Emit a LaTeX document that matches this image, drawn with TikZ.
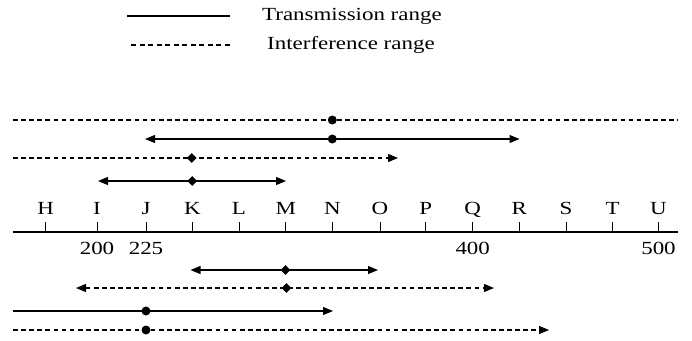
\documentclass[tikz,border=0pt]{standalone}
\usepackage{fontspec}
\setmainfont{Liberation Serif}
\usetikzlibrary{arrows.meta,shapes.geometric}
\newcommand{\wide}[1]{\scalebox{1.24}[1]{#1}}
\begin{document}
\begin{tikzpicture}[x=1pt,y=-1pt,
  rng/.style={line width=1.1pt},
  irng/.style={line width=1.1pt,dash pattern=on 4.7pt off 3.4pt},
  tip/.style={-{Triangle[length=10pt,width=8pt]}},
  tips/.style={{Triangle[length=10pt,width=8pt]}-{Triangle[length=10pt,width=8pt]}},
  dotn/.style={circle,fill=black,inner sep=0pt,minimum size=9pt},
  dia/.style={diamond,fill=black,inner sep=0pt,minimum size=10pt},
  lbl/.style={font=\fontsize{18.5}{20}\selectfont,inner sep=0pt},
  num/.style={font=\fontsize{18.5}{20}\selectfont,inner sep=0pt}]
\useasboundingbox (0,0) rectangle (692,340);
% legend
\coordinate (l1a) at (127,16); \coordinate (l1b) at (230,16);
\coordinate (l2a) at (131,45); \coordinate (l2b) at (230,45);
\draw[line width=1.2pt] (l1a) -- (l1b);
\draw[line width=1.1pt,dash pattern=on 5pt off 3.5pt] (l2a) -- (l2b);
\node[lbl,anchor=west] (tr) at (262,16) {\wide{Transmission range}};
\node[lbl,anchor=west] (ir) at (267,45) {\wide{Interference range}};
% axis
\coordinate (axL) at (13,232); \coordinate (axR) at (678,232);
\draw[line width=1.3pt] (axL) -- (axR);
\foreach \n/\x in {H/45.7,I/97,J/146,K/192.3,L/239,M/285.7,N/332.3,O/380,P/425.7,Q/472.7,R/519.3,S/566,T/612.7,U/658.5}{
  \coordinate (t\n) at (\x,232);
  \draw[line width=1pt] (t\n) -- ++(0,-10);
  \node[lbl,anchor=base] (lab\n) at (\x,214) {\wide{\n}};
}
\node[num,anchor=base] (n200) at (97,254) {\wide{200}};
\node[num,anchor=base] (n225) at (146,254) {\wide{225}};
\node[num,anchor=base] (n400) at (472.7,254) {\wide{400}};
\node[num,anchor=base] (n500) at (658.5,254) {\wide{500}};
% row 1
\coordinate (r1a) at (13,120); \coordinate (r1b) at (678,120);
\draw[irng] (r1a) -- (r1b);
\node[dotn] (d1) at (332.3,120) {};
% row 2
\coordinate (r2a) at (145,139); \coordinate (r2b) at (519.5,139);
\draw[rng,tips] (r2a) -- (r2b);
\node[dotn] (d2) at (332.3,139) {};
% row 3
\coordinate (r3a) at (13,158); \coordinate (r3b) at (398,158);
\draw[irng,tip] (r3a) -- (r3b);
\node[dia] (d3) at (191.7,158) {};
% row 4
\coordinate (r4a) at (98,181); \coordinate (r4b) at (286,181);
\draw[rng,tips] (r4a) -- (r4b);
\node[dia] (d4) at (192.3,181) {};
% row 5
\coordinate (r5a) at (190.5,270); \coordinate (r5b) at (378,270);
\draw[rng,tips] (r5a) -- (r5b);
\node[dia] (d5) at (285.5,270) {};
% row 6
\coordinate (r6a) at (76,288); \coordinate (r6b) at (494,288);
\draw[irng,tips] (r6a) -- (r6b);
\node[dia] (d6) at (286.5,288) {};
% row 7
\coordinate (r7a) at (13,311); \coordinate (r7b) at (333,311);
\draw[rng,tip] (r7a) -- (r7b);
\node[dotn] (d7) at (146,311) {};
% row 8
\coordinate (r8a) at (13,330); \coordinate (r8b) at (549,330);
\draw[irng,tip] (r8a) -- (r8b);
\node[dotn] (d8) at (146,330) {};
\end{tikzpicture}
\end{document}
